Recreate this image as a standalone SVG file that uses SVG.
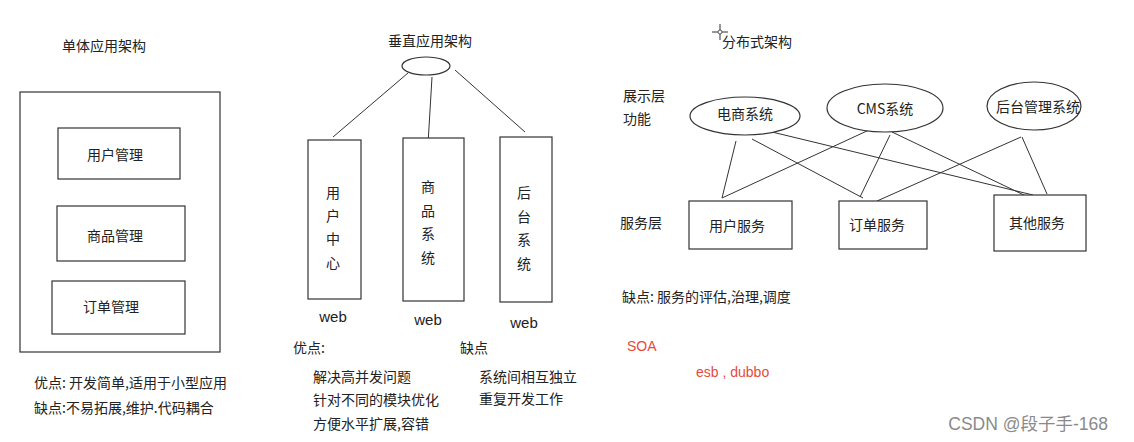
<svg xmlns="http://www.w3.org/2000/svg" width="1134" height="442" viewBox="0 0 1134 442">
<style>
text{font-family:"Microsoft YaHei","Noto Sans CJK SC","Liberation Sans",sans-serif;fill:#222;dominant-baseline:central}
.t{font-size:14px}
.b{font-size:14px}
.m{text-anchor:middle}
.w{font-family:"Liberation Sans","Noto Sans CJK SC",sans-serif;font-size:15px;text-anchor:middle}
.shape{fill:#fff;stroke:#333;stroke-width:1.2}
.line{stroke:#333;stroke-width:1;fill:none}
.red{fill:#e64a3b;font-family:"Liberation Sans","Noto Sans CJK SC",sans-serif;font-size:14px}
</style>
<rect width="1134" height="442" fill="#fff"/>

<!-- Monolithic -->
<g id="mono">
<text class="t" x="62" y="45">单体应用架构</text>
<rect class="shape" x="20" y="92" width="200" height="260"/>
</g>
<g id="mono-user"><rect class="shape" x="58" y="128" width="122" height="51"/><text class="b m" x="115" y="154">用户管理</text></g>
<g id="mono-goods"><rect class="shape" x="57" y="206" width="128" height="55"/><text class="b m" x="115" y="235">商品管理</text></g>
<g id="mono-order"><rect class="shape" x="52" y="281" width="133" height="53"/><text class="b m" x="111" y="306">订单管理</text></g>
<g id="mono-notes">
<text class="t" x="34" y="382">优点: 开发简单,适用于小型应用</text>
<text class="t" x="34" y="407">缺点:不易拓展,维护.代码耦合</text>
</g>

<!-- Vertical -->
<g id="vert-root">
<text class="t" x="388" y="40">垂直应用架构</text>
<ellipse class="shape" cx="426" cy="66" rx="24" ry="9"/>
</g>
<g id="connectors-vert">
<line class="line" x1="408" y1="73" x2="333" y2="137"/>
<line class="line" x1="432" y1="77" x2="428" y2="144"/>
<line class="line" x1="455" y1="70" x2="525" y2="132"/>
</g>
<g id="vert-user">
<rect class="shape" x="308" y="140" width="53" height="159"/>
<text class="t m" x="333" y="192">用</text><text class="t m" x="333" y="215">户</text><text class="t m" x="333" y="238">中</text><text class="t m" x="333" y="262">心</text>
<text class="w" x="333" y="316">web</text>
</g>
<g id="vert-goods">
<rect class="shape" x="403" y="138" width="61" height="163"/>
<text class="t m" x="428" y="186">商</text><text class="t m" x="428" y="210">品</text><text class="t m" x="428" y="233">系</text><text class="t m" x="428" y="257">统</text>
<text class="w" x="428" y="319">web</text>
</g>
<g id="vert-admin">
<rect class="shape" x="500" y="137" width="52" height="165"/>
<text class="t m" x="524" y="192">后</text><text class="t m" x="524" y="216">台</text><text class="t m" x="524" y="239">系</text><text class="t m" x="524" y="263">统</text>
<text class="w" x="524" y="322">web</text>
</g>
<g id="vert-notes">
<text class="t" x="293" y="347">优点:</text>
<text class="t" x="313" y="376">解决高并发问题</text>
<text class="t" x="313" y="399">针对不同的模块优化</text>
<text class="t" x="313" y="423">方便水平扩展,容错</text>
<text class="t" x="460" y="347">缺点</text>
<text class="t" x="479" y="376">系统间相互独立</text>
<text class="t" x="479" y="398">重复开发工作</text>
</g>

<!-- Distributed -->
<g id="cursor">
<line class="line" x1="720" y1="24" x2="720" y2="40"/>
<line class="line" x1="712" y1="32" x2="728" y2="32"/>
<circle cx="720" cy="32" r="2" fill="#fff" stroke="#333" stroke-width="0.8"/>
</g>
<g id="dist-labels">
<text class="t" x="722" y="41">分布式架构</text>
<text class="t" x="623" y="95">展示层</text>
<text class="t" x="623" y="118">功能</text>
<text class="t" x="620" y="222">服务层</text>
<text class="t" x="622" y="296">缺点: 服务的评估,治理,调度</text>
<text class="red" x="627" y="346">SOA</text>
<text class="red" x="696" y="372">esb , dubbo</text>
</g>
<g id="connectors-dist">
<line class="line" x1="736" y1="141" x2="722" y2="198"/>
<line class="line" x1="752" y1="139" x2="863" y2="198"/>
<line class="line" x1="772" y1="132" x2="1033" y2="195"/>
<line class="line" x1="869" y1="130" x2="722" y2="198"/>
<line class="line" x1="890" y1="135" x2="860" y2="197"/>
<line class="line" x1="892" y1="132" x2="1026" y2="196"/>
<line class="line" x1="1021" y1="137" x2="877" y2="201"/>
<line class="line" x1="1022" y1="137" x2="1047" y2="194"/>
</g>
<g id="dist-ecom"><ellipse class="shape" cx="745" cy="116" rx="55" ry="19"/><text class="b m" x="745" y="113">电商系统</text></g>
<g id="dist-cms"><ellipse class="shape" cx="885" cy="108" rx="58" ry="24"/><text class="b m" x="885" y="108">CMS系统</text></g>
<g id="dist-admin"><ellipse class="shape" cx="1034" cy="106" rx="47" ry="24"/><text class="b m" x="1038" y="106">后台管理系统</text></g>
<g id="dist-user"><rect class="shape" x="689" y="201" width="103" height="48"/><text class="b m" x="737" y="225">用户服务</text></g>
<g id="dist-order"><rect class="shape" x="839" y="201" width="88" height="48"/><text class="b m" x="877" y="224">订单服务</text></g>
<g id="dist-other"><rect class="shape" x="994" y="195" width="92" height="56"/><text class="b m" x="1037" y="222">其他服务</text></g>

<text x="1108" y="424" style="font-family:'Liberation Sans','Noto Sans CJK SC',sans-serif;font-size:17.5px;fill:#8a8a8a;text-anchor:end">CSDN @段子手-168</text>
</svg>
